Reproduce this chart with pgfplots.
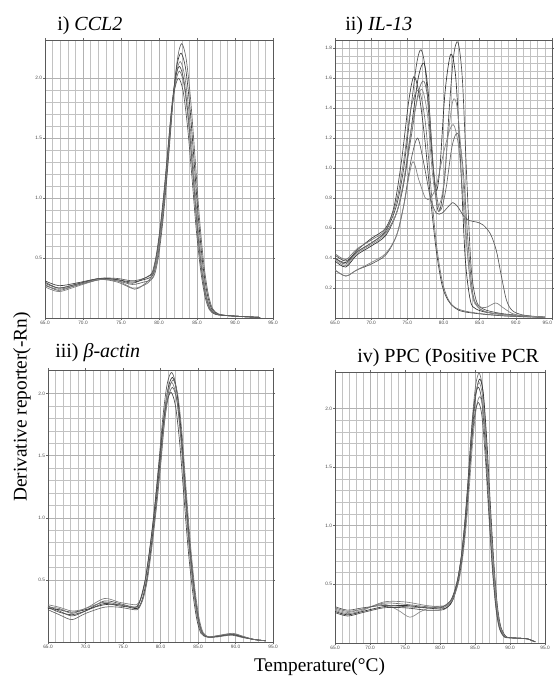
\documentclass[border=0pt]{standalone}
\usepackage{fontspec}
\setmainfont{Liberation Serif}
\newfontfamily\tickfont{Liberation Sans}
\usepackage{pgfplots}
\pgfplotsset{compat=1.18}
\pgfplotsset{
  qpcr/.style={
    scale only axis,
    xmin=65, xmax=95,
    ymin=0,
    xtick={65,70,75,80,85,90,95},
    minor x tick num=4,
    grid=both,
    major grid style={draw=black!30, line width=0.35pt},
    minor grid style={draw=black!24, line width=0.3pt},
    axis line style={draw=black!65, line width=0.6pt},
    tick align=outside,
    major tick length=1.6pt,
    minor tick length=0pt,
    tick style={black!60, line width=0.3pt},
    tick label style={font=\tickfont\fontsize{3.6}{4}\selectfont, text=black!70, inner sep=0.5pt},
    /pgf/number format/assume math mode=true,
    /pgf/number format/fixed,
    /pgf/number format/fixed zerofill,
    /pgf/number format/precision=1,
    every axis plot/.append style={smooth, line width=0.5pt},
  },
}
\begin{document}
\begin{tikzpicture}
\useasboundingbox (0,0) rectangle (415.5pt,507.75pt);

% ---------------- i) CCL2 ----------------
\begin{axis}[qpcr, at={(33.75pt,269.25pt)}, anchor=south west,
  width=171pt, height=208.5pt, ymax=2.32,
  ytick={0.5,1.0,1.5,2.0}, minor y tick num=4]
\addplot[black!60] coordinates {(65,0.28) (66.8,0.23) (69,0.27) (72.2,0.32) (74.5,0.31) (76.5,0.28) (78,0.30) (79,0.32) (79.5,0.38) (80,0.54) (80.5,0.80) (81,1.14) (81.5,1.53) (82,1.93) (82.5,2.19) (83,2.29) (83.58,2.16) (84.15,1.83) (84.73,1.35) (85.3,0.85) (85.88,0.46) (86.45,0.21) (87.03,0.08) (87.83,0.034) (89,0.02) (91,0.012) (93.3,0.005)};
\addplot[black!75] coordinates {(65,0.31) (66.8,0.27) (69,0.29) (72.2,0.33) (74.5,0.32) (76.5,0.30) (78,0.32) (78.9,0.34) (79.4,0.39) (79.9,0.54) (80.4,0.79) (80.9,1.11) (81.4,1.49) (81.9,1.87) (82.4,2.12) (82.9,2.21) (83.48,2.09) (84.05,1.77) (84.63,1.30) (85.2,0.82) (85.78,0.44) (86.35,0.20) (86.93,0.077) (87.73,0.033) (89,0.02) (91,0.012) (93.3,0.005)};
\addplot[black!50] coordinates {(65,0.26) (66.8,0.22) (69,0.26) (72.2,0.32) (74.5,0.31) (76.5,0.25) (77.5,0.26) (78.5,0.29) (79.3,0.36) (79.8,0.51) (80.3,0.75) (80.8,1.07) (81.3,1.44) (81.8,1.81) (82.3,2.05) (82.8,2.14) (83.38,2.02) (83.95,1.71) (84.53,1.26) (85.1,0.79) (85.68,0.43) (86.25,0.19) (86.83,0.075) (87.63,0.032) (89,0.02) (91,0.012) (93.3,0.005)};
\addplot[black!70] coordinates {(65,0.30) (66.8,0.25) (69,0.28) (72.2,0.33) (74.5,0.32) (76.5,0.29) (78,0.33) (78.7,0.35) (79.2,0.38) (79.7,0.53) (80.2,0.76) (80.7,1.06) (81.2,1.42) (81.7,1.78) (82.2,2.01) (82.7,2.10) (83.28,1.98) (83.85,1.68) (84.43,1.24) (85,0.78) (85.58,0.42) (86.15,0.19) (86.73,0.074) (87.53,0.032) (89,0.02) (91,0.012) (93.3,0.005)};
\addplot[black!55] coordinates {(65,0.27) (66.8,0.24) (69,0.27) (72.2,0.32) (74.5,0.30) (76.8,0.24) (77.8,0.27) (78.6,0.31) (79.2,0.37) (79.7,0.51) (80.2,0.74) (80.7,1.04) (81.2,1.39) (81.7,1.74) (82.2,1.97) (82.7,2.06) (83.28,1.95) (83.85,1.65) (84.43,1.22) (85,0.76) (85.58,0.41) (86.15,0.185) (86.73,0.072) (87.53,0.031) (89,0.02) (91,0.012) (93.3,0.005)};
\addplot[black!65] coordinates {(65,0.29) (66.8,0.25) (69,0.28) (72.2,0.33) (74.5,0.33) (76.5,0.31) (78,0.33) (78.6,0.35) (79.1,0.38) (79.6,0.51) (80.1,0.73) (80.6,1.02) (81.1,1.36) (81.6,1.70) (82.1,1.92) (82.6,2.00) (83.18,1.89) (83.75,1.60) (84.33,1.18) (84.9,0.74) (85.48,0.40) (86.05,0.18) (86.63,0.07) (87.43,0.03) (89,0.02) (91,0.012) (93.3,0.005)};
\end{axis}

% ---------------- ii) IL-13 ----------------
\begin{axis}[qpcr, at={(251.25pt,269.25pt)}, anchor=south west,
  width=162.75pt, height=208.5pt, ymax=1.855,
  xticklabels={65.0,70.0,75.0,80.0,85.0,90.0,\makebox[0pt][r]{95.0}},
  ytick={0.2,0.4,...,1.8}, minor y tick num=3]
\addplot[black!70] coordinates {(65,0.42) (66.5,0.38) (68,0.44) (70,0.50) (72,0.58) (73.5,0.75) (74.5,1.0) (75.5,1.4) (76.3,1.7) (76.9,1.79) (77.5,1.65) (78.2,1.2) (79,0.78) (79.5,0.72) (80.2,0.95) (80.8,1.4) (81.4,1.75) (82,1.84) (82.6,1.6) (83.2,0.95) (83.8,0.35) (84.5,0.12) (85.5,0.06) (88,0.03) (92,0.01) (94,0.005)};
\addplot[black!80] coordinates {(65,0.38) (66.5,0.34) (68,0.42) (70,0.48) (72,0.55) (73.5,0.70) (74.5,0.90) (75.5,1.25) (76.5,1.6) (77.3,1.70) (77.9,1.5) (78.5,1.05) (79,0.85) (79.5,1.0) (80.2,1.5) (81,1.76) (81.7,1.6) (82.4,1.0) (83,0.4) (83.7,0.12) (84.5,0.06) (87,0.03) (94,0.005)};
\addplot[black!60] coordinates {(65,0.40) (66.5,0.36) (68,0.44) (70,0.50) (72,0.57) (73.5,0.70) (74.5,0.90) (75.5,1.2) (76.5,1.5) (77.3,1.58) (78,1.4) (78.7,0.95) (79.5,0.72) (80.3,0.85) (81.2,1.15) (82,1.23) (82.7,1.0) (83.4,0.5) (84,0.18) (84.8,0.07) (87,0.03) (94,0.005)};
\addplot[black!75] coordinates {(65,0.40) (66.5,0.37) (68,0.45) (70,0.53) (72,0.60) (73.2,0.75) (74.2,1.05) (75.2,1.45) (75.9,1.61) (76.6,1.5) (77.4,1.2) (78.2,0.8) (79,0.45) (79.8,0.22) (80.6,0.12) (81.5,0.07) (83,0.04) (88,0.015) (94,0.005)};
\addplot[black!65] coordinates {(65,0.32) (66.5,0.28) (68,0.32) (70,0.36) (72,0.42) (73.5,0.55) (74.5,0.75) (75.5,1.05) (76.4,1.2) (77.2,1.05) (78.2,0.8) (79,0.70) (79.8,0.70) (80.6,0.74) (81.3,0.77) (82,0.74) (82.8,0.68) (83.6,0.65) (84.6,0.64) (85.5,0.62) (86.5,0.56) (87.3,0.45) (88,0.28) (88.7,0.12) (89.5,0.05) (91,0.02) (94,0.005)};
\addplot[black!50] coordinates {(65,0.32) (66.5,0.28) (68,0.32) (70,0.37) (72,0.43) (73.5,0.55) (74.5,0.75) (75.7,1.04) (76.6,0.92) (77.5,0.80) (78.2,0.80) (79,0.88) (80,1.1) (80.9,1.26) (81.5,1.28) (82.2,1.1) (83,0.6) (83.8,0.2) (84.6,0.09) (85.8,0.07) (87.2,0.1) (88.2,0.07) (89.5,0.03) (91,0.015) (94,0.005)};
\addplot[black!55] coordinates {(65,0.43) (66.5,0.39) (68,0.46) (70,0.52) (72,0.59) (73.5,0.78) (74.5,1.05) (75.5,1.4) (76.6,1.52) (77.5,1.3) (78.3,0.85) (79,0.5) (79.8,0.25) (80.7,0.12) (82,0.06) (85,0.03) (90,0.01) (94,0.005)};
\addplot[black!45] coordinates {(65,0.39) (66.5,0.35) (68,0.43) (70,0.49) (72,0.56) (73.5,0.70) (74.5,0.92) (75.5,1.25) (76.5,1.48) (77.1,1.52) (77.8,1.35) (78.5,0.95) (79.2,0.75) (79.9,0.85) (80.6,1.2) (81.3,1.45) (81.9,1.4) (82.6,1.0) (83.3,0.45) (84,0.15) (84.8,0.07) (87,0.03) (94,0.005)};
\end{axis}

% ---------------- iii) beta-actin ----------------
\begin{axis}[qpcr, at={(36pt,26.25pt)}, anchor=south west,
  width=168.75pt, height=204pt, ymax=2.19,
  ytick={0.5,1.0,1.5,2.0}, minor y tick num=4]
\addplot[black!65] coordinates {(65,0.29) (66.5,0.25) (68.2,0.21) (70,0.25) (72.5,0.33) (74.5,0.31) (76.5,0.28) (77,0.30) (77.5,0.37) (78.05,0.52) (78.6,0.76) (79.2,1.08) (79.8,1.46) (80.35,1.83) (80.9,2.08) (81.5,2.17) (82.1,2.05) (82.65,1.74) (83.2,1.28) (83.8,0.80) (84.4,0.43) (84.95,0.195) (85.5,0.076) (86.3,0.04) (87.5,0.045) (89.3,0.065) (91,0.04) (92.5,0.02) (94,0.01)};
\addplot[black!80] coordinates {(65,0.27) (66.5,0.26) (68.2,0.24) (70,0.26) (72.5,0.30) (74.5,0.30) (76.5,0.27) (77.1,0.28) (77.6,0.35) (78.15,0.50) (78.7,0.74) (79.3,1.06) (79.9,1.43) (80.45,1.80) (81,2.04) (81.6,2.13) (82.2,2.01) (82.75,1.70) (83.3,1.26) (83.9,0.79) (84.5,0.43) (85.05,0.19) (85.6,0.075) (86.4,0.04) (87.5,0.045) (89.5,0.06) (91,0.04) (92.5,0.02) (94,0.01)};
\addplot[black!50] coordinates {(65,0.30) (66.5,0.28) (68.2,0.25) (70,0.27) (72.5,0.35) (74.5,0.32) (76.5,0.30) (77,0.31) (77.5,0.37) (78.05,0.52) (78.6,0.75) (79.2,1.05) (79.8,1.41) (80.35,1.77) (80.9,2.00) (81.5,2.09) (82.1,1.98) (82.65,1.67) (83.2,1.23) (83.8,0.77) (84.4,0.42) (84.95,0.19) (85.5,0.073) (86.3,0.04) (87.5,0.05) (89.6,0.07) (91,0.045) (92.5,0.02) (94,0.01)};
\addplot[black!60] coordinates {(65,0.26) (66.5,0.22) (68.2,0.18) (70,0.23) (72.5,0.28) (74.5,0.28) (76.5,0.26) (77.1,0.27) (77.6,0.34) (78.15,0.48) (78.7,0.72) (79.3,1.02) (79.9,1.37) (80.45,1.73) (81,1.96) (81.6,2.05) (82.2,1.94) (82.75,1.64) (83.3,1.21) (83.9,0.76) (84.5,0.41) (85.05,0.185) (85.6,0.072) (86.4,0.04) (87.5,0.04) (89.4,0.055) (91,0.035) (92.5,0.02) (94,0.01)};
\addplot[black!70] coordinates {(65,0.28) (66.5,0.24) (68.2,0.22) (70,0.25) (72.5,0.31) (74.5,0.29) (76.5,0.28) (77,0.29) (77.4,0.36) (77.95,0.50) (78.5,0.72) (79.1,1.01) (79.7,1.36) (80.25,1.70) (80.8,1.92) (81.4,2.01) (82,1.90) (82.55,1.61) (83.1,1.19) (83.7,0.74) (84.3,0.40) (84.85,0.18) (85.4,0.07) (86.2,0.04) (87.5,0.045) (89.5,0.06) (91,0.04) (92.5,0.02) (94,0.01)};
\addplot[black!55] coordinates {(65,0.28) (66.5,0.27) (68.2,0.23) (70,0.27) (72.5,0.32) (74.5,0.30) (76.5,0.28) (77.2,0.29) (77.7,0.35) (78.25,0.50) (78.8,0.74) (79.4,1.05) (80,1.41) (80.55,1.78) (81.1,2.02) (81.7,2.11) (82.3,1.99) (82.85,1.69) (83.4,1.24) (84,0.78) (84.6,0.42) (85.15,0.19) (85.7,0.074) (86.5,0.04) (87.5,0.05) (89.7,0.065) (91,0.045) (92.5,0.02) (94,0.01)};
\node[font=\tickfont\fontsize{3}{3.5}\selectfont, text=black!60, anchor=north, inner sep=0pt] at (axis cs:65.6,0) [yshift=-6.2pt] {Tm: 0.0};
\end{axis}

% ---------------- iv) PPC ----------------
\begin{axis}[qpcr, at={(251.25pt,25.5pt)}, anchor=south west,
  width=157.5pt, height=203.25pt, ymax=2.31,
  ytick={0.5,1.0,1.5,2.0}, minor y tick num=4]
\addplot[black!55] coordinates {(65,0.30) (66.8,0.27) (69,0.29) (72,0.34) (75,0.33) (78,0.31) (80,0.30) (80.8,0.31) (81.6,0.36) (82.1,0.44) (82.6,0.56) (83.1,0.76) (83.6,1.06) (84.1,1.46) (84.6,1.90) (85.1,2.20) (85.6,2.30) (86.1,2.16) (86.6,1.75) (87.1,1.20) (87.6,0.69) (88.1,0.32) (88.6,0.14) (89.3,0.06) (90,0.045) (91.5,0.04) (92.5,0.035) (93.6,0.01)};
\addplot[black!80] coordinates {(65,0.27) (66.8,0.24) (69,0.27) (72,0.31) (75,0.32) (78,0.30) (80,0.29) (80.9,0.30) (81.7,0.35) (82.2,0.43) (82.7,0.55) (83.2,0.74) (83.7,1.04) (84.2,1.43) (84.7,1.86) (85.2,2.15) (85.7,2.25) (86.2,2.12) (86.7,1.71) (87.2,1.17) (87.7,0.675) (88.2,0.315) (88.7,0.135) (89.4,0.056) (90,0.045) (91.5,0.04) (92.5,0.035) (93.6,0.01)};
\addplot[black!45] coordinates {(65,0.29) (66.8,0.26) (69,0.29) (72,0.33) (74,0.28) (75.7,0.22) (77.3,0.27) (79,0.31) (80.8,0.32) (81.6,0.37) (82.1,0.44) (82.6,0.56) (83.1,0.75) (83.6,1.04) (84.1,1.42) (84.6,1.84) (85.1,2.12) (85.6,2.22) (86.1,2.09) (86.6,1.69) (87.1,1.15) (87.6,0.67) (88.1,0.31) (88.6,0.13) (89.3,0.055) (90,0.045) (91.5,0.04) (92.5,0.035) (93.6,0.01)};
\addplot[black!70] coordinates {(65,0.26) (66.8,0.23) (69,0.26) (72,0.30) (75,0.30) (78,0.28) (80,0.28) (80.7,0.29) (81.5,0.33) (82,0.41) (82.5,0.53) (83,0.72) (83.5,1.00) (84,1.38) (84.5,1.80) (85,2.09) (85.5,2.18) (86,2.05) (86.5,1.66) (87,1.13) (87.5,0.65) (88,0.305) (88.5,0.13) (89.2,0.055) (90,0.045) (91.5,0.04) (92.5,0.035) (93.6,0.01)};
\addplot[black!50] coordinates {(65,0.28) (66.8,0.25) (69,0.28) (72,0.35) (75,0.35) (78,0.32) (80,0.31) (80.9,0.32) (81.7,0.36) (82.2,0.43) (82.7,0.53) (83.2,0.71) (83.7,0.98) (84.2,1.34) (84.7,1.74) (85.2,2.01) (85.7,2.10) (86.2,1.97) (86.7,1.60) (87.2,1.09) (87.7,0.63) (88.2,0.29) (88.7,0.125) (89.4,0.053) (90,0.045) (91.5,0.04) (92.5,0.035) (93.6,0.01)};
\addplot[black!65] coordinates {(65,0.31) (66.8,0.28) (69,0.30) (72,0.32) (75,0.31) (78,0.30) (80,0.30) (80.7,0.32) (81.5,0.36) (82,0.43) (82.5,0.54) (83,0.71) (83.5,0.97) (84,1.32) (84.5,1.70) (85,1.96) (85.5,2.05) (86,1.93) (86.5,1.56) (87,1.07) (87.5,0.615) (88,0.29) (88.5,0.12) (89.2,0.05) (90,0.045) (91.5,0.04) (92.5,0.035) (93.6,0.01)};
\node[font=\tickfont\fontsize{3}{3.5}\selectfont, text=black!60, anchor=north, inner sep=0pt] at (axis cs:65.6,0) [yshift=-6.2pt] {Tm: 0.0};
\end{axis}

% ---------------- titles and outer labels ----------------
\node[anchor=base west, font=\fontsize{15}{17}\selectfont, inner sep=0pt] at (42.75pt,484.5pt) {i) \textit{CCL2}};
\node[anchor=base west, font=\fontsize{15}{17}\selectfont, inner sep=0pt] at (258.75pt,484.5pt) {ii) \textit{IL-13}};
\node[anchor=base west, font=\fontsize{15}{17}\selectfont, inner sep=0pt] at (41.25pt,239.25pt) {iii) \textit{β-actin}};
\node[anchor=base west, font=\fontsize{15}{17}\selectfont, inner sep=0pt] at (267.75pt,235.5pt) {iv) PPC (Positive PCR};
\node[rotate=90, font=\fontsize{14.5}{16}\selectfont, inner sep=0pt] at (16.5pt,202.5pt) {Derivative reporter(-Rn)};
\node[anchor=base, font=\fontsize{14.5}{16}\selectfont, inner sep=0pt] at (239.6pt,4pt) {Temperature(°C)};
\end{tikzpicture}
\end{document}
